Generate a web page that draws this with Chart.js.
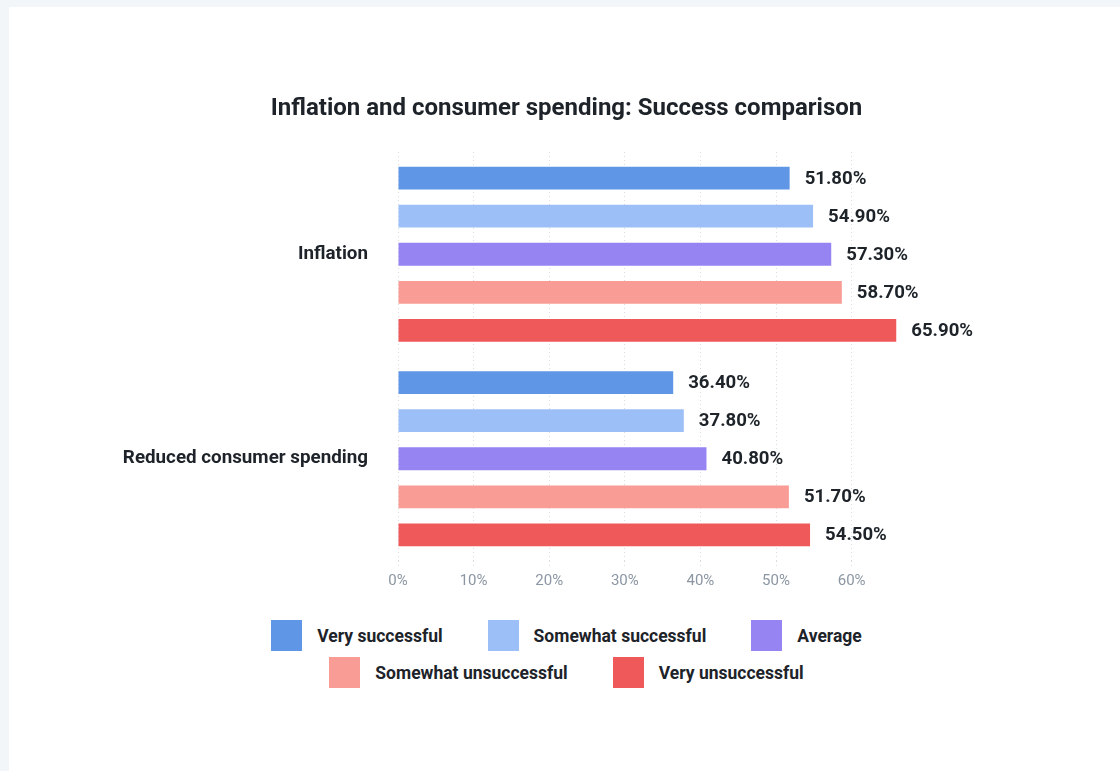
<!DOCTYPE html>
<html>
<head>
<meta charset="utf-8">
<script src="https://cdn.jsdelivr.net/npm/chart.js@4.4.1/dist/chart.umd.min.js"></script>
<style>
  html, body { margin: 0; padding: 0; }
  body { background: #f3f6f9; width: 1120px; height: 771px; overflow: hidden; font-family: Roboto, "Noto Sans", sans-serif; }
  .card { position: absolute; left: 9px; top: 7px; width: 1111px; height: 764px; background: #fff; }
  .plot { position: absolute; left: 0; top: 0; width: 1111px; height: 593px; }
  .legend {
    position: absolute; left: 0; top: 613px; width: 1111px;
    display: flex; justify-content: center;
  }
  .legend-inner {
    display: flex; flex-wrap: wrap; justify-content: center;
    max-width: 620px; column-gap: 45px; row-gap: 6px;
    transform: translateX(2px);
  }
  .legend-item { display: flex; align-items: center; font-weight: bold; font-size: 17.5px; color: #1d2329; }
  .legend-box { width: 31px; height: 31px; margin-right: 15px; }
</style>
</head>
<body>
<div class="card">
  <div class="plot"><canvas id="chart"></canvas></div>
  <div class="legend"><div class="legend-inner" id="legend"></div></div>
</div>
<script>
// survey answers, percent of respondents per factor
const chartTitle = 'Inflation and consumer spending: Success comparison';
const categories = ['Inflation', 'Reduced consumer spending'];
const seriesNames = ['Very successful', 'Somewhat successful', 'Average', 'Somewhat unsuccessful', 'Very unsuccessful'];
const verySuccessful = [51.8, 36.4];
const somewhatSuccessful = [54.9, 37.8];
const average = [57.3, 40.8];
const somewhatUnsuccessful = [58.7, 51.7];
const veryUnsuccessful = [65.9, 54.5];
const xTicks = [0, 10, 20, 30, 40, 50, 60];

const seriesValues = [verySuccessful, somewhatSuccessful, average, somewhatUnsuccessful, veryUnsuccessful];
const seriesColors = ['#6096e6', '#9dbff7', '#9584f2', '#f89c95', '#f0595a'];
const textColor = '#1d2329';

// value text drawn just past the end of each bar
const barValueLabels = {
    id: 'barValueLabels',
    afterDatasetsDraw(chart) {
        const ctx = chart.ctx;
        ctx.save();
        ctx.font = 'bold 18.6px Roboto, "Noto Sans", sans-serif';
        ctx.fillStyle = textColor;
        ctx.textAlign = 'left';
        ctx.textBaseline = 'middle';
        chart.data.datasets.forEach((ds, di) => {
            const meta = chart.getDatasetMeta(di);
            meta.data.forEach((bar, i) => {
                ctx.fillText(ds.data[i].toFixed(2) + '%', bar.x + 15, bar.y + 1);
            });
        });
        ctx.restore();
    }
};

// title centred on the whole card instead of the padded chart box
const centeredTitle = {
    id: 'centeredTitle',
    afterDraw(chart) {
        const ctx = chart.ctx;
        ctx.save();
        ctx.font = 'bold 24px Roboto, "Noto Sans", sans-serif';
        ctx.fillStyle = textColor;
        ctx.textAlign = 'center';
        ctx.textBaseline = 'middle';
        ctx.fillText(chartTitle, chart.width / 2 + 2, 102);
        ctx.restore();
    }
};

const ctx = document.getElementById('chart').getContext('2d');
const chart = new Chart(ctx, {
    type: 'bar',
    data: {
        labels: categories,
        datasets: seriesNames.map((name, i) => ({
            label: name,
            data: seriesValues[i],
            backgroundColor: seriesColors[i],
            categoryPercentage: 0.93,
            barPercentage: 0.6,
        }))
    },
    options: {
        indexAxis: 'y',
        responsive: true,
        maintainAspectRatio: false,
        animation: false,
        layout: { padding: { left: 0, right: 223, top: 145, bottom: 7 } },
        plugins: {
            legend: { display: false },
            tooltip: { enabled: false },
            title: { display: false }
        },
        scales: {
            x: {
                min: 0,
                max: 66,
                grid: {
                    color: '#d9dde2',
                    tickLength: 8,
                    drawTicks: true,
                    tickBorderDash: [1, 3]
                },
                border: { display: false, dash: [1, 3] },
                ticks: {
                    stepSize: 10,
                    includeBounds: false,
                    color: '#8b96a2',
                    font: { family: 'Roboto', size: 15 },
                    callback: v => xTicks.includes(v) ? v + '%' : ''
                }
            },
            y: {
                border: { display: false },
                grid: { display: false },
                afterFit(scale) { scale.width = 389; },
                ticks: {
                    color: textColor,
                    padding: 22,
                    font: { family: 'Roboto', size: 18.8, weight: 'bold' }
                }
            }
        }
    },
    plugins: [barValueLabels, centeredTitle]
});

// html legend with large square swatches
const legendEl = document.getElementById('legend');
seriesNames.forEach((name, i) => {
    const item = document.createElement('div');
    item.className = 'legend-item';
    item.innerHTML = '<span class="legend-box" style="background:' + seriesColors[i] + '"></span>' + name;
    legendEl.appendChild(item);
});
</script>
</body>
</html>
